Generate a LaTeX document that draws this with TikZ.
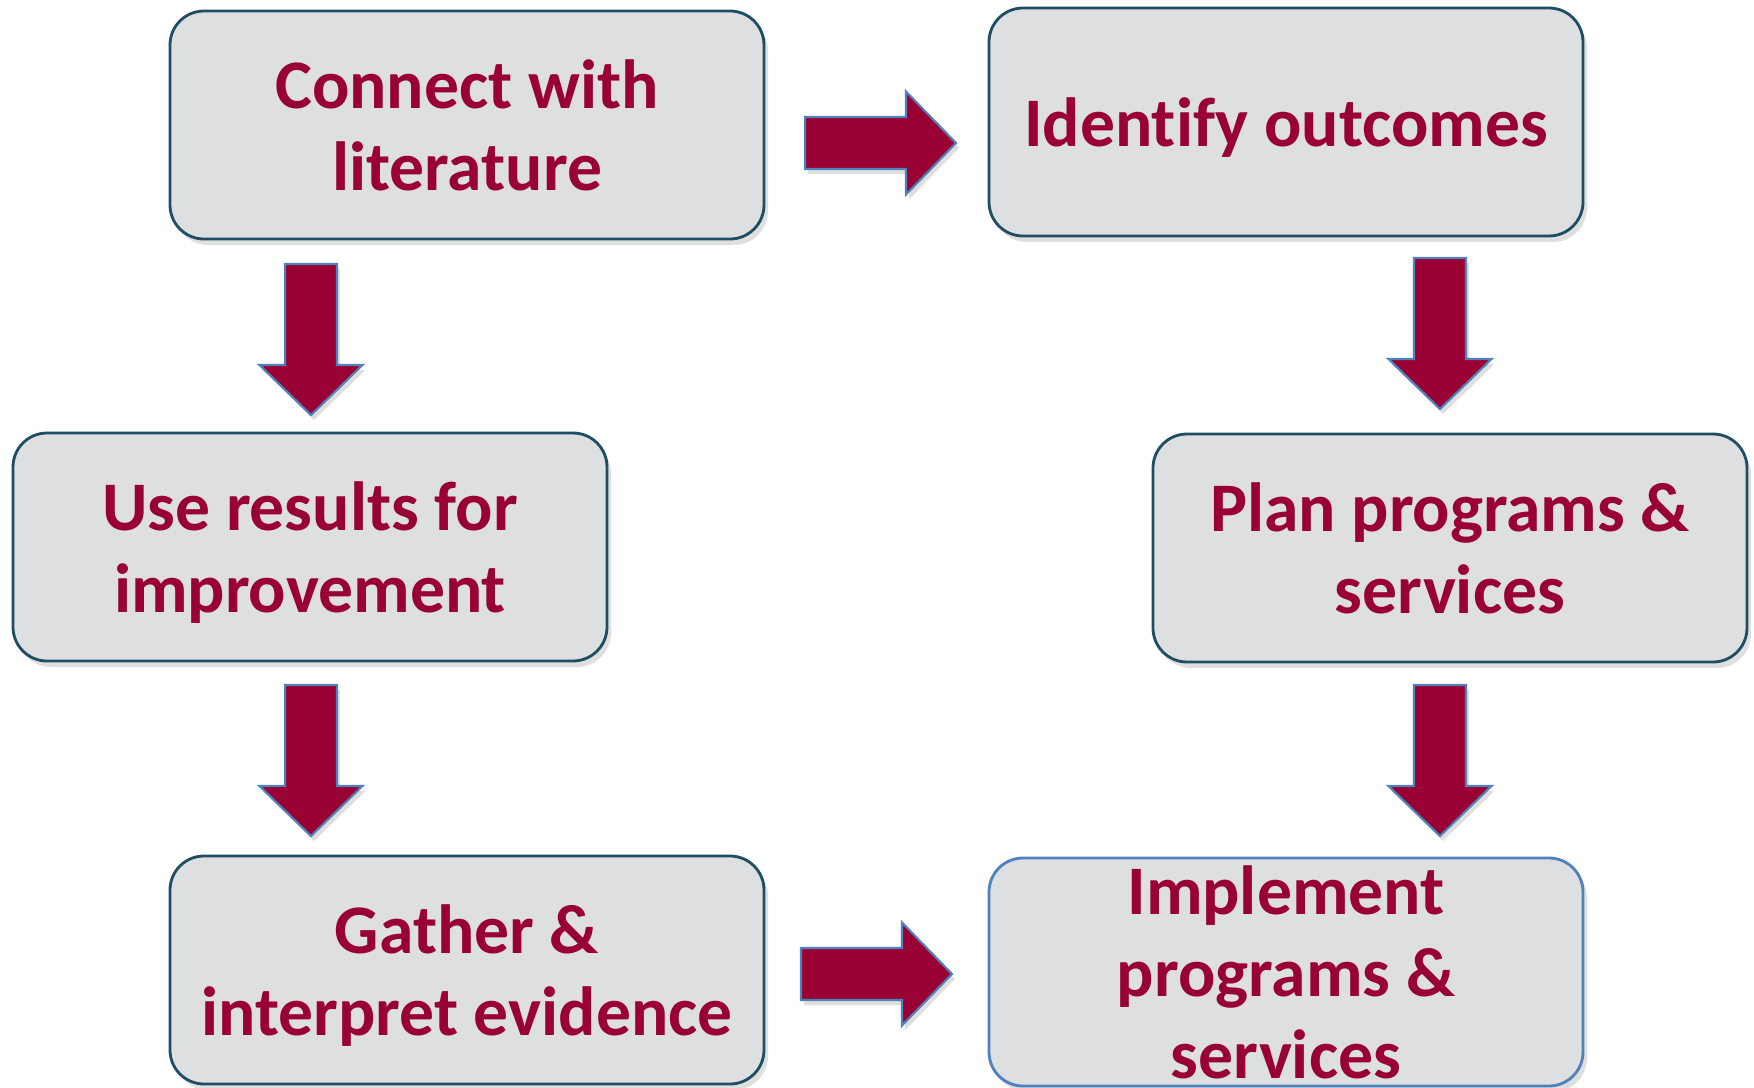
\documentclass[tikz,border=0pt]{standalone}
\usepackage{fontspec}
\setmainfont[Ligatures=NoCommon]{Carlito}
\usetikzlibrary{shadows}

\definecolor{wine}{RGB}{153,0,51}
\definecolor{boxgray}{RGB}{222,223,225}
\definecolor{boxline}{RGB}{30,78,100}
\definecolor{arrowline}{RGB}{79,129,189}

\tikzset{
	stepbox/.style={draw=boxline, line width=0.8pt, fill=boxgray, rounded corners=0.34cm,
		minimum width=5.94cm, minimum height=2.28cm, align=center,
		drop shadow={shadow xshift=0.04cm, shadow yshift=-0.06cm, opacity=0.25}},
	steptext/.style={text=wine, font=\fontsize{19.8}{23.4}\selectfont\bfseries, align=center, text depth=0pt},
	fatarrow/.pic={
		\filldraw[fill=wine, draw=arrowline, line width=0.6pt,
			drop shadow={shadow xshift=0.03cm, shadow yshift=-0.05cm, opacity=0.25}]
			(0,-0.26) -- (1.01,-0.26) -- (1.01,-0.515) -- (1.51,0) -- (1.01,0.515)
			-- (1.01,0.26) -- (0,0.26) -- cycle;
	}
}

\begin{document}
\begin{tikzpicture}
		\useasboundingbox (0,0) rectangle (17.54,-10.88);
		
		%%%%% boxes %%%%%
		\node[stepbox, steptext] (connect) at (4.67,-1.25) {Connect with\\literature};
		\node[stepbox, steptext] (identify) at (12.86,-1.22) {Identify outcomes};
		\node[stepbox, steptext] (results) at (3.10,-5.47) {Use results for\\improvement};
		\node[stepbox, steptext] (plan) at (14.50,-5.48) {Plan programs \&\\services};
		\node[stepbox, steptext] (gather) at (4.67,-9.70) {Gather \&\\interpret evidence};
		\node[stepbox, draw=arrowline] (implement) at (12.86,-9.72) {};
		\node[steptext] (implementtext) at (implement.center) {Implement\\programs \&\\services};
		
		%%%%% arrows %%%%%
		\pic at (8.05,-1.43) {fatarrow};
		\pic[rotate=-90] at (3.11,-2.64) {fatarrow};
		\pic[rotate=-90] at (3.11,-6.85) {fatarrow};
		\pic[rotate=-90] at (14.40,-2.58) {fatarrow};
		\pic[rotate=-90] at (14.40,-6.85) {fatarrow};
		\pic at (8.01,-9.74) {fatarrow};
	\end{tikzpicture}
\end{document}
